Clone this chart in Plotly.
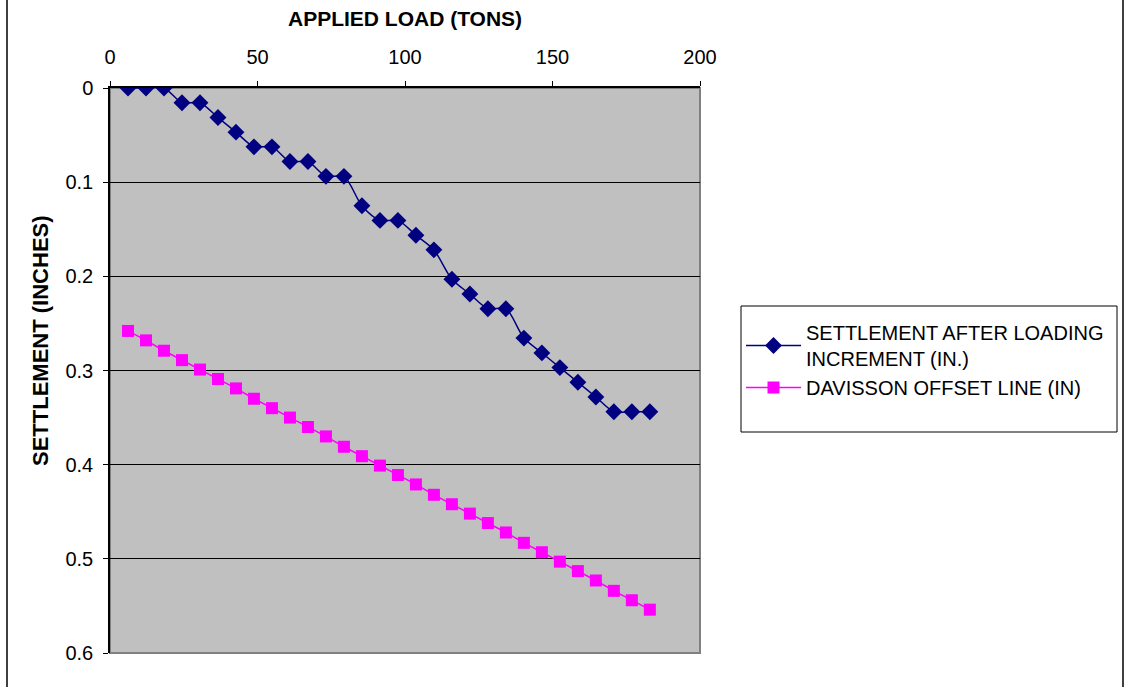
import plotly.graph_objects as go

# Applied load for each loading increment (tons)
load_tons = [6.1, 12.2, 18.3, 24.4, 30.5, 36.6, 42.7, 48.8, 54.9, 61.0,
             67.1, 73.2, 79.3, 85.4, 91.5, 97.6, 103.7, 109.8, 115.9, 122.0,
             128.1, 134.2, 140.3, 146.4, 152.5, 158.6, 164.7, 170.8, 176.9, 183.0]

# Measured settlement after each loading increment (in.)
settlement_in = [0.0, 0.0, 0.0, 0.0156, 0.0156, 0.0313, 0.0469, 0.0625, 0.0625, 0.0781,
                 0.0781, 0.0938, 0.0938, 0.125, 0.1406, 0.1406, 0.1563, 0.1719, 0.2031, 0.2188,
                 0.2344, 0.2344, 0.2656, 0.2813, 0.2969, 0.3125, 0.3281, 0.3438, 0.3438, 0.3438]

# Davisson offset line (in.)
davisson_in = [0.258, 0.268, 0.279, 0.289, 0.299, 0.309, 0.319, 0.330, 0.340, 0.350,
               0.360, 0.370, 0.381, 0.391, 0.401, 0.411, 0.421, 0.432, 0.442, 0.452,
               0.462, 0.472, 0.483, 0.493, 0.503, 0.513, 0.523, 0.534, 0.544, 0.554]

x_ticks = [0, 50, 100, 150, 200]
y_ticks = [0, 0.1, 0.2, 0.3, 0.4, 0.5, 0.6]
y_tick_text = ["0", "0.1", "0.2", "0.3", "0.4", "0.5", "0.6"]

FONT = "Liberation Sans, Arial, sans-serif"
W, H = 1126, 687
L, R, T, B = 110, 700, 88, 653  # plot-area pixel edges
pw, ph = R - L, B - T


def px_x(v):
    return (v - L) / pw


def px_y(v):
    return (B - v) / ph


fig = go.Figure()
fig.add_trace(go.Scatter(
    x=load_tons, y=settlement_in, mode="lines+markers",
    name="SETTLEMENT AFTER LOADING<br>INCREMENT (IN.)",
    line=dict(color="#000080", width=1.5, shape="spline", smoothing=0.8),
    marker=dict(symbol="diamond", size=13, color="#000080"),
))
fig.add_trace(go.Scatter(
    x=load_tons, y=davisson_in, mode="lines+markers",
    name="DAVISSON OFFSET LINE (IN)",
    line=dict(color="#FF00FF", width=1.5),
    marker=dict(symbol="square", size=12, color="#FF00FF"),
))

# plot-area frame (grey on right and bottom)
fig.add_shape(type="rect", xref="paper", yref="paper", x0=0, x1=1, y0=0, y1=1,
              line=dict(color="#808080", width=2), layer="below")
# legend box
fig.add_shape(type="rect", xref="paper", yref="paper",
              x0=px_x(741), x1=px_x(1117), y0=px_y(432), y1=px_y(306),
              line=dict(color="black", width=1), fillcolor="white", layer="below")
# outer chart border
fig.add_shape(type="rect", xref="paper", yref="paper",
              x0=px_x(7), x1=px_x(1123), y0=px_y(700), y1=px_y(-10),
              line=dict(color="#000000", width=1.5))

fig.update_layout(
    width=W, height=H,
    margin=dict(l=L, r=W - R, t=T, b=H - B, pad=0),
    paper_bgcolor="white", plot_bgcolor="#C0C0C0",
    font=dict(family=FONT, size=20, color="black"),
    showlegend=True,
    legend=dict(
        x=px_x(741), y=px_y(313), xanchor="left", yanchor="top",
        bgcolor="rgba(0,0,0,0)", borderwidth=0,
        font=dict(family=FONT, size=20, color="black"),
        tracegroupgap=2, itemwidth=55, entrywidth=330,
    ),
    annotations=[
        dict(text="<b>APPLIED LOAD (TONS)</b>", xref="paper", yref="paper",
             x=px_x(405), y=px_y(18), xanchor="center", yanchor="middle",
             showarrow=False, font=dict(family=FONT, size=21)),
        dict(text="<b>SETTLEMENT (INCHES)</b>", xref="paper", yref="paper",
             x=px_x(40), y=px_y(341), xanchor="center", yanchor="middle",
             textangle=-90, showarrow=False, font=dict(family=FONT, size=22)),
    ],
)
fig.update_xaxes(
    side="top", range=[0, 200], tickvals=x_ticks, ticks="outside", ticklen=5,
    tickcolor="black", showgrid=False, zeroline=False,
    showline=True, linecolor="black", linewidth=1.5,
    tickfont=dict(family=FONT, size=20), ticklabelstandoff=9,
)
fig.update_yaxes(
    range=[0.6, 0], tickvals=y_ticks, ticktext=y_tick_text, ticks="outside",
    ticklen=5, tickcolor="black", showgrid=True, gridcolor="black", gridwidth=1,
    zeroline=False, showline=True, linecolor="black", linewidth=1.5,
    tickfont=dict(family=FONT, size=20), ticklabelstandoff=6,
)

fig.write_html("out.html")
